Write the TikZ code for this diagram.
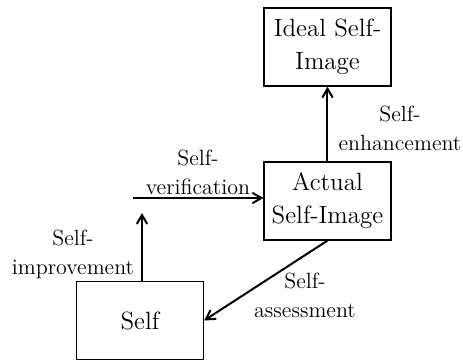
\documentclass[tikz,border=0pt]{standalone}
\usepackage{tikz}
\usetikzlibrary{arrows}
\tikzset{
  selfbox/.style = {draw=black, line width=0.6pt, rectangle, align=center,
    inner sep=0pt, minimum width=63.5pt, minimum height=39pt,
    font=\fontsize{12.5}{16.5}\selectfont},% boite
  selflabel/.style = {align=center, inner sep=0pt,
    font=\fontsize{11}{14.5}\selectfont},% etiquette de fleche
  selfarrow/.style = {->, line width=1pt}% fleche
}
\begin{document}
\begin{tikzpicture}[x=0.5pt,y=-0.5pt,>=angle 60]
\useasboundingbox (0,0) rectangle (463,360);
\node [selfbox] (ideal) at (327.5,47) {Ideal Self-\\Image};
\node [selfbox] (actual) at (327.5,201) {Actual\\Self-Image};
\node [selfbox] (self) at (140,320.5) {Self};
\coordinate (vstart) at (133,198);
\coordinate (iend) at (142,213);
% fleches
\draw [selfarrow] (actual.north) -- (ideal.south);
\draw [selfarrow] (vstart) -- (vstart -| actual.west);
\draw [selfarrow] (self.north -| iend) -- (iend);
\draw [selfarrow] (actual.south) -- (self.east);
% etiquettes
\node [selflabel] (lenh) at (400,128) {Self-\\enhancement};
\node [selflabel] (lver) at (198,172) {Self-\\verification};
\node [selflabel] (limp) at (73,254) {Self-\\improvement};
\node [selflabel] (lass) at (305,295) {Self-\\assessment};
\end{tikzpicture}
\end{document}
